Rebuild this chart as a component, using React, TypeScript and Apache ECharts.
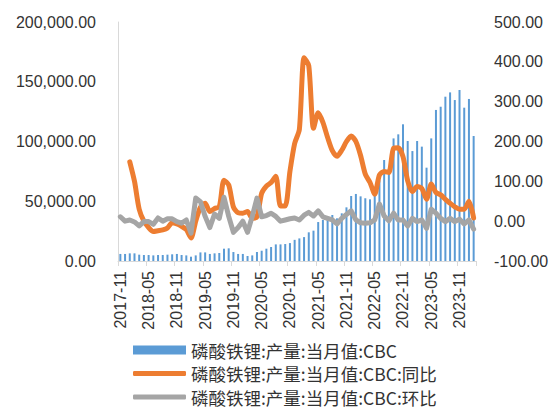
import React, { useEffect, useRef } from "react";
import * as echarts from "echarts";

const categories: string[] = [
  "2017-11", "2017-12",
  "2018-01", "2018-02", "2018-03", "2018-04", "2018-05", "2018-06", "2018-07", "2018-08", "2018-09", "2018-10", "2018-11", "2018-12",
  "2019-01", "2019-02", "2019-03", "2019-04", "2019-05", "2019-06", "2019-07", "2019-08", "2019-09", "2019-10", "2019-11", "2019-12",
  "2020-01", "2020-02", "2020-03", "2020-04", "2020-05", "2020-06", "2020-07", "2020-08", "2020-09", "2020-10", "2020-11", "2020-12",
  "2021-01", "2021-02", "2021-03", "2021-04", "2021-05", "2021-06", "2021-07", "2021-08", "2021-09", "2021-10", "2021-11", "2021-12",
  "2022-01", "2022-02", "2022-03", "2022-04", "2022-05", "2022-06", "2022-07", "2022-08", "2022-09", "2022-10", "2022-11", "2022-12",
  "2023-01", "2023-02", "2023-03", "2023-04", "2023-05", "2023-06", "2023-07", "2023-08", "2023-09", "2023-10", "2023-11", "2023-12",
  "2024-01", "2024-02",
];

const production: number[] = [
  5900, 5900, 6400, 6400, 5300, 5000, 5000, 4700, 5000, 5000,
  5300, 5600, 5900, 5000, 4700, 3600, 4700, 7200, 7200, 5900,
  6400, 6700, 10300, 10600, 7500, 5900, 5900, 4200, 4700, 7500,
  8600, 10300, 11700, 13900, 13900, 14200, 15000, 17700, 18900, 20000,
  24000, 25400, 32600, 34300, 35700, 38500, 35700, 39900, 44900, 54400,
  56100, 54100, 52500, 51600, 55000, 67500, 84500, 77500, 102600, 106000,
  114400, 100400, 92000, 100400, 95700, 78100, 102600, 126400, 129100, 137500,
  141100, 134700, 143100, 128300, 135600, 104600,
];

const yoy: (number | null)[] = [
  null, null, 149, 100, 30, 0, -16, -26, -24, -22,
  -17, -4, -7, -13, -21, -42, 0, 35, 45, 24,
  32, 36, 103, 91, 36, 21, 20, 24, 7, 11,
  70, 88, 97, 113, 38, 38, 125, 195, 230, 410,
  390, 233, 272, 248, 210, 177, 163, 178, 200, 214,
  200, 165, 118, 97, 68, 116, 125, 122, 183, 184,
  162, 101, 74, 87, 82, 55, 93, 72, 66, 55,
  45, 36, 30, 30, 50, 8,
];

const mom: number[] = [
  11, 0, 3, -2, -12, -1, -1, -8, 8, 0,
  6, 6, -1, -5, 3, -30, 58, 49, 12, -16,
  18, 7, 60, 12, -28, -16, 0, -28, 12, 58,
  11, 14, 20, 12, 0, 3, 6, 8, 3, 15,
  22, 13, 26, 11, 7, 3, -7, 7, 17, 26,
  3, -4, -5, -4, 3, 43, 13, 1, 20, 3,
  3, -12, 7, -1, 3, -18, 30, 20, 7, -1,
  7, -1, 5, -7, 3, -20,
];

const seriesNames = [
  "磷酸铁锂:产量:当月值:CBC",
  "磷酸铁锂:产量:当月值:CBC:同比",
  "磷酸铁锂:产量:当月值:CBC:环比",
];
const seriesColors = ["#5B9BD5", "#ED7D31", "#A5A5A5"];

const fmt = (v: number) =>
  v.toLocaleString("en-US", { minimumFractionDigits: 2, maximumFractionDigits: 2 });

export default function App() {
  const ref = useRef<HTMLDivElement>(null);
  useEffect(() => {
    if (!ref.current) return;
    const chart = echarts.init(ref.current, undefined, { renderer: "svg" });
    const font = "'Liberation Sans', Arial, sans-serif";
    const legendText = {
      fontSize: 17.5,
      lineHeight: 18,
      color: "#333333",
      fontFamily: "'Noto Sans CJK SC', 'Liberation Sans', sans-serif",
    };
    const legendTops = [341, 364.5, 388];
    const legends = seriesNames.map((name, i) => ({
      orient: "horizontal",
      left: 133,
      top: legendTops[i],
      padding: 0,
      itemWidth: 53,
      itemHeight: i === 0 ? 9 : 5,
      textStyle: legendText,
      data: [{ name, icon: i === 0 ? "rect" : "roundRect", itemStyle: { color: seriesColors[i] } }],
    }));
    chart.setOption({
      animation: false,
      backgroundColor: "#ffffff",
      grid: { left: 118, right: 76, top: 22, bottom: 147 },
      legend: legends,
      xAxis: {
        type: "category",
        data: categories,
        boundaryGap: true,
        axisLine: { show: true, lineStyle: { color: "#D9D9D9", width: 1 } },
        axisTick: { show: true, interval: 5, length: 5, lineStyle: { color: "#D9D9D9" } },
        axisLabel: {
          interval: 5,
          rotate: 90,
          fontSize: 16,
          color: "#333333",
          fontFamily: font,
          margin: 10,
        },
      },
      yAxis: [
        {
          type: "value",
          min: 0,
          max: 200000,
          interval: 50000,
          splitLine: { show: false },
          axisLine: { show: true, lineStyle: { color: "#D9D9D9" } },
          axisTick: { show: false },
          axisLabel: {
            formatter: (v: number) => fmt(v),
            fontSize: 16,
            color: "#333333",
            fontFamily: font,
            margin: 22,
          },
        },
        {
          type: "value",
          min: -100,
          max: 500,
          interval: 100,
          position: "right",
          splitLine: { show: false },
          axisLine: { show: false },
          axisTick: { show: false },
          axisLabel: {
            formatter: (v: number) => fmt(v),
            fontSize: 16,
            color: "#333333",
            fontFamily: font,
            margin: 18,
          },
        },
      ],
      series: [
        {
          name: seriesNames[0],
          type: "bar",
          data: production,
          barWidth: 2,
          itemStyle: { color: seriesColors[0] },
          yAxisIndex: 0,
        },
        {
          name: seriesNames[1],
          type: "line",
          data: yoy,
          yAxisIndex: 1,
          symbol: "none",
          smooth: 0.25,
          lineStyle: { color: seriesColors[1], width: 5, cap: "round", join: "round" },
          itemStyle: { color: seriesColors[1] },
        },
        {
          name: seriesNames[2],
          type: "line",
          data: mom,
          yAxisIndex: 1,
          symbol: "none",
          lineStyle: { color: seriesColors[2], width: 5, cap: "round", join: "round" },
          itemStyle: { color: seriesColors[2] },
        },
      ],
    });
    return () => chart.dispose();
  }, []);
  return <div ref={ref} style={{ width: 552, height: 408, position: "absolute", left: 0, top: 0 }} />;
}
